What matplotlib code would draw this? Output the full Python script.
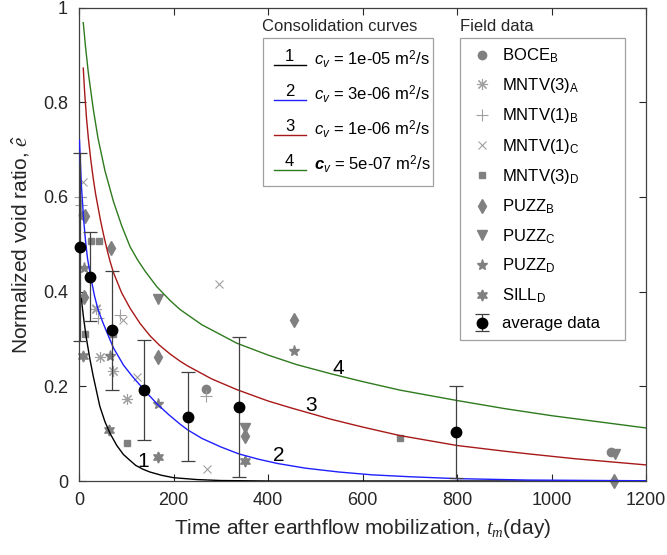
import matplotlib
matplotlib.use("Agg")
import matplotlib.pyplot as plt
from matplotlib.legend_handler import HandlerLine2D
from matplotlib.lines import Line2D
from matplotlib.text import Text

plt.rcParams.update({
    "font.family": ["Liberation Sans", "DejaVu Sans"],
    "mathtext.fontset": "custom",
    "mathtext.rm": "Liberation Sans",
    "mathtext.it": "Liberation Serif:italic",
    "mathtext.sf": "Liberation Sans:italic",
    "mathtext.bf": "Liberation Sans:bold:italic",
})

# ---------------- data ----------------
cv_values = ["1e-05", "3e-06", "1e-06", "5e-07"]
curve_numbers = ["1", "2", "3", "4"]

curve1_t = [5, 9, 15, 23, 30, 44, 55, 66, 80, 94, 104, 120, 135, 150, 175, 200, 250, 300, 400, 600, 1200]
curve1_e = [0.385, 0.35, 0.305, 0.258, 0.222, 0.158, 0.125, 0.1, 0.075, 0.056, 0.047, 0.033, 0.025,
            0.019, 0.012, 0.007, 0.003, 0.001, 0.0, 0.0, 0.0]

curve2_t = [1, 5, 10, 14, 18, 25, 33, 41, 50, 59, 73, 94, 112, 140, 165, 190, 214, 230, 260, 300,
            339, 380, 420, 480, 550, 620, 700, 800, 950, 1200]
curve2_e = [0.72, 0.625, 0.55, 0.505, 0.47, 0.43, 0.39, 0.36, 0.336, 0.314, 0.281, 0.245, 0.222,
            0.19, 0.163, 0.14, 0.12, 0.108, 0.09, 0.072, 0.057, 0.046, 0.037, 0.027, 0.019,
            0.013, 0.009, 0.005, 0.002, 0.0005]

curve3_t = [9, 12, 16, 20, 25, 30, 35, 45, 52, 59, 66, 73, 90, 108, 129, 150, 170, 193, 214, 230,
            280, 334, 400, 450, 489, 531, 600, 679, 800, 900, 954, 1050, 1200]
curve3_e = [0.872, 0.82, 0.765, 0.722, 0.678, 0.64, 0.607, 0.553, 0.52, 0.49, 0.463, 0.44, 0.398,
            0.365, 0.333, 0.307, 0.287, 0.268, 0.253, 0.243, 0.216, 0.193, 0.169, 0.154, 0.143,
            0.131, 0.114, 0.096, 0.075, 0.063, 0.057, 0.047, 0.034]

curve4_t = [9, 14, 20, 30, 40, 55, 73, 90, 108, 124, 140, 165, 193, 214, 260, 334, 400, 460, 531,
            600, 679, 800, 900, 1000, 1100, 1200]
curve4_e = [0.968, 0.915, 0.86, 0.787, 0.725, 0.655, 0.59, 0.54, 0.495, 0.467, 0.443, 0.41, 0.381,
            0.362, 0.33, 0.291, 0.266, 0.246, 0.227, 0.21, 0.192, 0.17, 0.153, 0.138, 0.125, 0.112]

boce_t = [9, 269, 1126]
boce_e = [0.562, 0.194, 0.062]
mntv3a_t = [37, 44, 71, 102]
mntv3a_e = [0.363, 0.261, 0.233, 0.173]
mntv1b_t = [2, 4, 40, 87, 269]
mntv1b_e = [0.60, 0.583, 0.344, 0.35, 0.18]
mntv1c_t = [9, 37, 94, 122, 270, 297]
mntv1c_e = [0.632, 0.365, 0.34, 0.219, 0.025, 0.416]
mntv3d_t = [13, 25, 42, 72, 101, 679]
mntv3d_e = [0.31, 0.507, 0.507, 0.31, 0.08, 0.09]
puzzb_t = [12, 11, 67, 168, 352, 456, 1133]
puzzb_e = [0.56, 0.389, 0.493, 0.261, 0.096, 0.339, 0.0]
puzzc_t = [168, 352, 1134]
puzzc_e = [0.384, 0.112, 0.057]
puzzd_t = [10, 66, 168, 456]
puzzd_e = [0.45, 0.264, 0.163, 0.275]
silld_t = [9, 64, 168, 352]
silld_e = [0.264, 0.108, 0.05, 0.043]

avg_t = [2, 23, 70, 138, 230, 339, 798]
avg_e = [0.494, 0.431, 0.318, 0.192, 0.136, 0.156, 0.104]
avg_err = [0.198, 0.094, 0.125, 0.105, 0.094, 0.148, 0.097]

x_ticks = [0, 200, 400, 600, 800, 1000, 1200]
y_ticks = [0, 0.2, 0.4, 0.6, 0.8, 1]
y_ticklabels = ["0", "0.2", "0.4", "0.6", "0.8", "1"]

# ---------------- figure ----------------
W, H = 667, 555
fig = plt.figure(figsize=(W / 100, H / 100), dpi=100)
ax = fig.add_axes([79 / W, 1 - 481 / H, (646 - 79) / W, (481 - 7.5) / H])

dark = "#262626"
gray = "#808080"
light = "#a0a0a0"

curve_colors = ["#000000", "#1f1fff", "#a81818", "#2e7a1e"]
curves_t = [curve1_t, curve2_t, curve3_t, curve4_t]
curves_e = [curve1_e, curve2_e, curve3_e, curve4_e]
curve_handles = []
for ct, ce, col in zip(curves_t, curves_e, curve_colors):
    ln, = ax.plot(ct, ce, color=col, lw=1.0, zorder=3)
    curve_handles.append(ln)

ms_kw = dict(linestyle="none", clip_on=False)
field = []
field.append(ax.plot(boce_t, boce_e, marker="o", ms=6, mfc=gray, mec=gray, **ms_kw)[0])
field.append(ax.plot(mntv3a_t, mntv3a_e, marker=(8, 2, 0), ms=8, mec=light, mew=0.8, **ms_kw)[0])
field.append(ax.plot(mntv1b_t, mntv1b_e, marker="+", ms=8, mec=light, mew=0.8, **ms_kw)[0])
field.append(ax.plot(mntv1c_t, mntv1c_e, marker="x", ms=6, mec=light, mew=0.8, **ms_kw)[0])
field.append(ax.plot(mntv3d_t, mntv3d_e, marker="s", ms=5, mfc=gray, mec=gray, **ms_kw)[0])
field.append(ax.plot(puzzb_t, puzzb_e, marker="d", ms=7, mfc=gray, mec=gray, **ms_kw)[0])
field.append(ax.plot(puzzc_t, puzzc_e, marker="v", ms=7, mfc=gray, mec=gray, **ms_kw)[0])
field.append(ax.plot(puzzd_t, puzzd_e, marker="*", ms=8, mfc=gray, mec=gray, **ms_kw)[0])
field.append(ax.plot(silld_t, silld_e, marker=(6, 1, 0), ms=8, mfc=gray, mec=gray, **ms_kw)[0])
avg = ax.errorbar(avg_t, avg_e, yerr=avg_err, fmt="o", ms=7.5, mfc="black", mec="black",
                  ecolor="#404040", elinewidth=0.9, capsize=5, capthick=0.9, zorder=5)
for art in avg.lines[0:1] + tuple(avg.lines[1]) + tuple(avg.lines[2]):
    if art is not None:
        art.set_clip_on(False)
field.append(avg)

field_labels = [r"BOCE$_\mathrm{B}$", r"MNTV(3)$_\mathrm{A}$", r"MNTV(1)$_\mathrm{B}$",
                r"MNTV(1)$_\mathrm{C}$", r"MNTV(3)$_\mathrm{D}$", r"PUZZ$_\mathrm{B}$",
                r"PUZZ$_\mathrm{C}$", r"PUZZ$_\mathrm{D}$", r"SILL$_\mathrm{D}$", "average data"]

# curve number labels
ax.text(136, 0.041, "1", fontsize=15, ha="center", va="center", color="black")
ax.text(422, 0.053, "2", fontsize=15, ha="center", va="center", color="black")
ax.text(492, 0.16, "3", fontsize=15, ha="center", va="center", color="black")
ax.text(549, 0.238, "4", fontsize=15, ha="center", va="center", color="black")

ax.set_xlim(0, 1200)
ax.set_ylim(0, 1)
ax.set_xticks(x_ticks)
ax.set_yticks(y_ticks)
ax.set_yticklabels(y_ticklabels)
ax.tick_params(direction="in", length=5, width=0.8, top=True, right=True, labelsize=13,
               colors=dark, pad=8)
for s in ax.spines.values():
    s.set_color("#404040")
    s.set_linewidth(0.9)

ax.set_xlabel(r"Time after earthflow mobilization, $t_m$(day)", fontsize=15, color=dark, labelpad=6)
ax.set_ylabel(r"Normalized void ratio, $\hat{e}$", fontsize=15, color=dark, labelpad=8)


class NumberedLine(HandlerLine2D):
    def __init__(self, num, **kw):
        super().__init__(**kw)
        self.num = num

    def create_artists(self, legend, orig_handle, xdescent, ydescent, width, height, fontsize, trans):
        artists = super().create_artists(legend, orig_handle, xdescent, ydescent, width, height,
                                         fontsize, trans)
        for a in artists:
            if isinstance(a, Line2D):
                a.set_ydata([-ydescent + 0.02 * height] * len(a.get_xdata()))
        t = Text(width / 2 - xdescent, -ydescent + 0.12 * height, self.num, ha="center",
                 va="bottom", fontsize=fontsize, color="black", transform=trans)
        artists.append(t)
        return artists


cv_labels = []
for i, v in enumerate(cv_values):
    if i == 3:
        cv_labels.append(r"$\mathbf{c}_\mathsf{v}$ = " + v + r" m$^2$/s")
    else:
        cv_labels.append(r"$\mathsf{c}_\mathsf{v}$ = " + v + r" m$^2$/s")

leg1 = ax.legend(curve_handles, cv_labels,
                 handler_map={h: NumberedLine(n) for h, n in zip(curve_handles, curve_numbers)},
                 loc="upper left", bbox_to_anchor=(263 / W, 1 - 185 / H, 170 / W, 147 / H),
                 bbox_transform=fig.transFigure, mode="expand",
                 borderaxespad=0, fontsize=12, handlelength=1.9, handletextpad=0.5,
                 labelspacing=0.8, borderpad=0.65, fancybox=False, framealpha=1,
                 edgecolor="#a0a0a0")
leg1.get_frame().set_linewidth(0.9)
ax.add_artist(leg1)

leg2 = ax.legend(field, field_labels, loc="upper left",
                 bbox_to_anchor=(460 / W, 1 - 336 / H, 165 / W, 298 / H),
                 bbox_transform=fig.transFigure, mode="expand", borderaxespad=0, fontsize=12,
                 handlelength=1.6, handletextpad=0.4, labelspacing=0.68, borderpad=0.5,
                 fancybox=False, framealpha=1, edgecolor="#a0a0a0", numpoints=1)
leg2.get_frame().set_linewidth(0.9)

fig.text(262 / W, 1 - 26.5 / H, "Consolidation curves", fontsize=12, ha="left", va="center", color=dark)
fig.text(460 / W, 1 - 26.5 / H, "Field data", fontsize=12, ha="left", va="center", color=dark)

fig.savefig("out.png", dpi=100)
